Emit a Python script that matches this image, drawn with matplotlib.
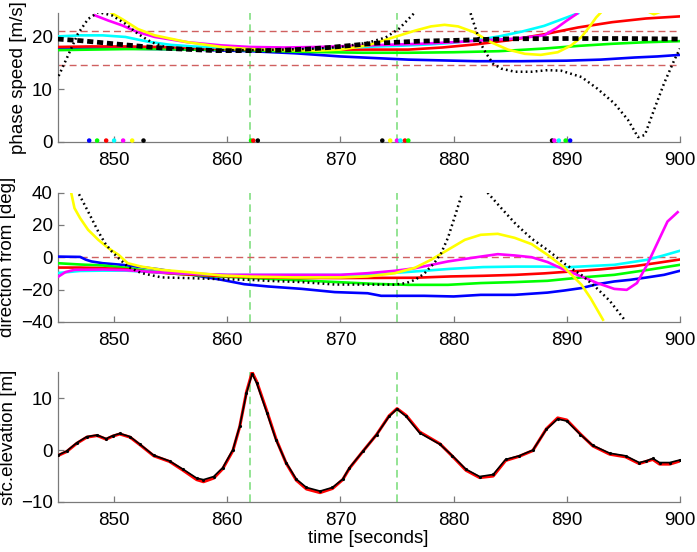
import matplotlib
matplotlib.use('Agg')
import matplotlib.pyplot as plt
import numpy as np

plt.rcParams['font.family'] = ['Liberation Sans', 'DejaVu Sans']
plt.rcParams['font.size'] = 13.5

nan = np.nan

# ---- panel 1: phase speed [m/s] ----
spd_b_t = [845, 848, 851, 854, 857, 860, 862, 864, 866, 868, 870, 872, 874, 876, 878, 882, 886, 890, 893, 896, 898, 900]
spd_b = [17.7, 17.7, 17.7, 17.6, 17.5, 17.3, 17.2, 17.0, 16.8, 16.5, 16.2, 16.0, 15.8, 15.6, 15.5, 15.3, 15.3, 15.4, 15.6, 16.0, 16.2, 16.5]

spd_g_t = [845, 848, 851, 854, 857, 860, 863, 866, 869, 872, 876, 880, 884, 888, 891, 894, 897, 900]
spd_g = [17.4, 17.5, 17.6, 17.6, 17.5, 17.5, 17.3, 17.1, 17.0, 16.9, 16.9, 17.0, 17.2, 17.7, 18.2, 18.6, 18.9, 19.1]

spd_r_t = [845, 848, 851, 854, 857, 860, 864, 868, 872, 876, 879, 882, 885, 888, 891, 894, 897, 900]
spd_r = [18.0, 18.1, 18.1, 18.0, 17.8, 17.6, 17.5, 17.5, 17.5, 17.5, 17.9, 18.5, 19.3, 20.4, 21.7, 22.7, 23.4, 23.8]

spd_c_t = [845, 847, 849, 851, 853, 855, 857, 860, 863, 866, 869, 872, 875, 878, 880, 882, 884, 886, 888, 889.5, 891]
spd_c = [20.0, 20.2, 20.2, 19.9, 19.0, 18.4, 18.1, 17.8, 17.7, 17.7, 17.8, 18.0, 18.2, 18.5, 18.8, 19.3, 20.0, 20.9, 22.0, 23.2, 24.4]

spd_m_t = [848.3, 849.5, 850.7, 852.1, 853.6, 856.5, 859.5, 862, 865, 868, 871, 874, 877, 880, 883, 885.5, 888, 889.1, 890, 890.9]
spd_m = [24.0, 23.0, 22.1, 20.8, 19.9, 18.9, 18.3, 18.0, 17.9, 18.0, 18.2, 18.4, 18.6, 18.9, 19.3, 19.6, 20.2, 21.6, 23.0, 24.3]

spd_y_t = [849.8, 850.7, 852.1, 853.6, 856.5, 859.5, 862, 865, 868, 870, 872.4, 874.8, 876.6, 878, 879.2, 880.4,
           881.8, 883.3, 884.8, 886.3, 887.7, 889.2, 890.4, 891.3, 892, 892.6, 893, 895, 897.2, 897.7, 898.3]
spd_y = [24.4, 23.3, 21.4, 20.2, 18.9, 18.0, 17.6, 17.4, 17.3, 17.5, 18.3, 19.9, 21.1, 21.9, 22.2, 21.9,
         20.8, 18.9, 17.5, 16.7, 16.5, 17.0, 18.3, 19.9, 21.8, 23.6, 24.5, nan, 24.7, 24.2, 24.7]

spd_k_t = [845.1, 846, 846.8, 847.7, 848.6, 849.8, 851, 852.1, 853.3, 854.5, 856, 859, 862, 865, 868, 870, 872.4, 874,
           875.2, 876.6, 879, 881.5, 881.8, 882.1, 882.4, 882.9, 883.5, 884.2, 885.4, 886.9, 888.3, 889.5, 891.3,
           892.7, 894.2, 895.4, 896.3, 896.9, 897.7, 898.6, 899.5, 900]
spd_k = [12.5, 16.7, 20.5, 23.3, 24.6, 24.0, 22.4, 20.5, 18.9, 18.0, 17.6, 17.4, 17.4, 17.5, 17.7, 18.0, 18.8, 19.8,
         21.5, 24.6, nan, 24.4, 22.4, 20.5, 18.6, 16.7, 14.8, 13.9, 13.3, 13.3, 13.6, 13.5, 12.3,
         10.1, 7.3, 4.2, 0.9, 1.3, 6.0, 11.1, 15.5, 17.7]

spd_mean_t = [845, 847, 849, 851, 853, 855, 857, 859, 861, 863, 865, 867, 869, 871, 873, 875, 877, 879, 881, 883, 885, 890, 895, 900]
spd_mean = [19.5, 19.2, 18.8, 18.4, 18.0, 17.7, 17.5, 17.3, 17.3, 17.3, 17.4, 17.6, 17.9, 18.3, 18.7, 18.9, 19.1, 19.2, 19.3, 19.45, 19.55, 19.6, 19.6, 19.5]

spd_band = [21.1, 14.5]

# onset marks drawn on the time axis of panel 1
onset_t = [847.8, 848.5, 849.3, 850.0, 850.8, 851.6, 852.6,
           862.1, 862.3, 862.7,
           873.7, 874.4, 875.0, 875.3, 875.7, 876.0,
           888.7, 888.9, 889.3, 889.9, 890.3]
onset_c = ['b', 'g', 'r', 'c', 'm', 'y', 'k',
           'g', 'r', 'k',
           'k', 'y', 'm', 'c', 'r', 'g',
           'k', 'm', 'c', 'g', 'b']

# ---- panel 2: direction from [deg] ----
dir_b_t = [845, 847, 847.5, 848, 849, 850.7, 852, 854, 856.5, 859.5, 861.5, 863.6, 866.6, 869.5, 872.4, 873.6, 877.4,
           880, 882.4, 885.4, 888.3, 889.8, 891.3, 892.7, 894.2, 895.6, 897.1, 898.6, 900]
dir_b = [0.4, 0.2, -1.5, -2.6, -3.7, -4.7, -5.8, -7.5, -10.4, -14.0, -16.7, -18.1, -19.6, -21.6, -22.3, -23.9, -23.9,
         -24.3, -23.3, -23.3, -21.9, -20.6, -19.1, -16.7, -15.0, -14.0, -12.5, -10.9, -8.4]

dir_g_t = [845, 847, 849, 851, 853, 855, 858, 861, 864, 867, 870, 873, 876, 879.5, 882.4, 885.4, 888.3, 891.3, 894.2, 897.2, 900]
dir_g = [-3.7, -4.5, -5.1, -6.5, -8.5, -10.0, -11.5, -12.5, -13.5, -14.5, -15.5, -16.5, -17.1, -17.1, -16.0, -15.4, -14.6, -12.5, -10.9, -7.8, -4.7]

dir_r_t = [845, 847, 849, 851, 853, 856, 859, 862, 866, 870, 876.6, 879.7, 882.6, 885.5, 888, 890, 893, 896, 898, 900]
dir_r = [-6.4, -6.4, -6.8, -7.5, -9.0, -10.5, -11.5, -12.3, -12.8, -12.9, -12.7, -11.9, -11.5, -10.9, -10.0, -9.0, -7.5, -5.5, -3.5, -1.4]

dir_c_t = [845, 847, 849, 851, 853, 856, 860, 865, 870, 873, 876.6, 879.7, 882.6, 885.5, 888, 890, 894.2, 897.1, 898.5, 900]
dir_c = [-9.8, -8.5, -8.3, -8.3, -9.0, -10.0, -11.0, -11.0, -11.0, -10.5, -8.8, -7.2, -6.1, -5.8, -5.8, -6.2, -4.7, -1.6, 1.0, 4.0]

dir_m_t = [845.1, 845.7, 846.5, 849, 851, 853, 856, 860, 865, 870, 872.4, 874.8, 876.6, 879.5, 882.4, 883.9, 885.4,
           886.9, 888.3, 889.8, 891.3, 892.7, 894.2, 895.3, 896.2, 897.1, 898, 898.9, 899.8]
dir_m = [-11.9, -9.2, -7.8, -7.6, -8.0, -9.0, -10.0, -10.9, -10.9, -10.9, -9.9, -8.4, -6.8, -2.6, 0.4, 1.9, 1.1,
         0.0, -3.0, -7.8, -11.9, -16.0, -19.6, -20.2, -16.0, -4.7, 8.7, 22.1, 27.9]

dir_y_t = [846.2, 846.5, 847.0, 847.7, 848.6, 849.5, 850.4, 851.2, 852.4, 854.2, 856.5, 859.5, 862, 866, 870, 872.4,
           874.8, 876.6, 878, 879.5, 881, 882.4, 883.9, 885.4, 886.9, 888.3, 889.8, 891.3, 892.1, 893.2]
dir_y = [40.3, 30.4, 24.2, 17.0, 10.8, 5.6, 1.5, -3.7, -5.8, -7.8, -9.2, -11.3, -12.0, -12.5, -12.5, -11.9,
         -9.9, -6.5, -1.6, 4.6, 10.8, 13.9, 14.5, 12.0, 8.1, 1.5, -6.5, -17.0, -25.3, -38.7]

dir_k_t = [846.9, 847.4, 848.0, 848.6, 849.2, 849.8, 850.4, 851.2, 852.4, 854.2, 856.5, 859.5, 862, 863.6, 866.6,
           869.5, 874.8, 875.8, 876.6, 877.4, 878.3, 878.9, 879.5, 880.1, 880.8, 882, 883.0, 884.2, 885.5, 886.9,
           888.4, 889.8, 891.4, 892.7, 893.8, 895.1]
dir_k = [39.0, 32.4, 24.2, 15.9, 8.7, 3.5, -0.6, -5.8, -9.8, -12.5, -12.9, -13.6, -14.0, -14.6, -15.4,
         -16.9, -17.0, -16.0, -14.0, -10.2, -3.5, 2.5, 12.0, 25.0, 40.5, nan, 40.0, 30.5, 20.5, 11.5,
         4.0, -4.0, -11.5, -19.5, -27.0, -38.7]

# ---- panel 3: sfc. elevation [m] ----
elev_t = [845, 845.8, 846.7, 847.6, 848.5, 849.3, 849.9, 850.5, 851.4, 852.3, 853.5, 854.9, 856.1, 857.3, 857.9,
          858.8, 859.6, 860.5, 861.1, 861.7, 862.2, 862.6, 863.5, 864.3, 865.2, 866.1, 867.0, 868.2, 869.3, 870.2,
          870.8, 872.0, 873.2, 874.3, 875.0, 875.8, 877.0, 878.8, 879.9, 881.1, 882.3, 883.5, 884.6, 885.8, 887.0,
          888.2, 889.2, 890.0, 891.2, 892.3, 893.8, 895.2, 896.4, 897.0, 897.6, 898.2, 899.1, 900]
elev_k = [-1.0, -0.2, 1.4, 2.6, 2.9, 2.2, 2.8, 3.2, 2.6, 1.1, -1.0, -2.1, -3.7, -5.4, -5.7,
          -5.1, -3.4, 0.1, 4.6, 11.0, 14.7, 12.9, 7.2, 2.0, -2.4, -5.6, -7.2, -7.9, -7.2, -5.6,
          -3.4, -0.2, 3.0, 6.5, 7.9, 6.5, 3.3, 1.1, -1.1, -3.7, -5.1, -4.7, -1.8, -1.1, 0.0,
          4.0, 6.0, 5.6, 3.0, 0.9, -0.6, -1.1, -2.4, -2.1, -1.6, -2.4, -2.4, -1.9]
elev_r = [-1.1, -0.3, 1.3, 2.5, 2.8, 2.1, 2.7, 3.1, 2.5, 1.0, -1.1, -2.2, -3.9, -5.7, -6.1,
          -5.4, -3.6, -0.1, 4.5, 11.2, 15.0, 13.2, 7.5, 2.2, -2.5, -5.8, -7.5, -8.2, -7.4, -5.7,
          -3.5, -0.2, 3.0, 6.6, 8.0, 6.7, 3.5, 1.2, -1.2, -3.9, -5.3, -5.0, -2.0, -1.2, -0.1,
          4.1, 6.2, 5.8, 3.1, 0.8, -0.8, -1.3, -2.6, -2.2, -1.8, -2.7, -2.7, -2.1]

t_marks = [862, 875]
xticks = [850, 860, 870, 880, 890, 900]

gray = '#7a7a7a'
vgreen = '#77dd77'
dred = '#d06060'
cols = {'b': (0, 0, 1), 'g': (0, 1, 0), 'r': (1, 0, 0), 'c': (0, 1, 1),
        'm': (1, 0, 1), 'y': (1, 1, 0), 'k': (0, 0, 0)}


def style_ax(ax, ylim, yticks, ylabel):
    ax.set_xlim(845, 900)
    ax.set_ylim(*ylim)
    ax.set_xticks(xticks)
    ax.set_yticks(yticks)
    ax.set_ylabel(ylabel, labelpad=3)
    for s in ['top', 'right']:
        ax.spines[s].set_visible(False)
    for s in ['left', 'bottom']:
        ax.spines[s].set_color(gray)
        ax.spines[s].set_linewidth(0.9)
    ax.tick_params(direction='in', length=4, width=0.9, color=gray, labelcolor='k')
    ax.tick_params(axis='x', pad=7)
    for t in t_marks:
        ax.axvline(t, color=vgreen, lw=1.1, dashes=(5, 3), zorder=1)


def colored(ax, series):
    for c, tt, vv in series:
        if c == 'k':
            ax.plot(tt, vv, color='k', lw=1.8, dashes=(0.7, 1.3), zorder=4)
        else:
            ax.plot(tt, vv, color=cols[c], lw=1.9, zorder=3)


fig = plt.figure(figsize=(6.97, 5.52), dpi=100)
ax1 = fig.add_axes([0.0825, 0.743, 0.893, 0.234])
ax2 = fig.add_axes([0.0825, 0.417, 0.893, 0.234])
ax3 = fig.add_axes([0.0825, 0.0906, 0.893, 0.235])

# panel 1
style_ax(ax1, (0, 24.5), [0, 10, 20], 'phase speed [m/s]')
for v in spd_band:
    ax1.axhline(v, color=dred, lw=1.0, dashes=(5, 3), zorder=2)
colored(ax1, [('b', spd_b_t, spd_b), ('g', spd_g_t, spd_g), ('r', spd_r_t, spd_r),
              ('c', spd_c_t, spd_c), ('m', spd_m_t, spd_m), ('y', spd_y_t, spd_y),
              ('k', spd_k_t, spd_k)])
ax1.plot(spd_mean_t, spd_mean, color='k', lw=3.4, dashes=(1.3, 0.8), zorder=5)
ax1.scatter(onset_t, [0.25] * len(onset_t), c=[cols[c] for c in onset_c], s=5, zorder=6, clip_on=False)

# panel 2
style_ax(ax2, (-40, 40), [-40, -20, 0, 20, 40], 'direction from [deg]')
ax2.axhline(0, color=dred, lw=1.0, dashes=(5, 3), zorder=2)
colored(ax2, [('b', dir_b_t, dir_b), ('g', dir_g_t, dir_g), ('r', dir_r_t, dir_r),
              ('c', dir_c_t, dir_c), ('m', dir_m_t, dir_m), ('y', dir_y_t, dir_y),
              ('k', dir_k_t, dir_k)])

# panel 3
style_ax(ax3, (-10, 15), [-10, 0, 10], 'sfc.elevation [m]')
ax3.plot(elev_t, elev_r, color='r', lw=2.2, zorder=3)
ax3.plot(elev_t, elev_k, color='k', lw=1.2, marker='.', ms=2.5, zorder=4)
ax3.set_xlabel('time [seconds]', labelpad=1)

fig.savefig('out.png', dpi=100)
